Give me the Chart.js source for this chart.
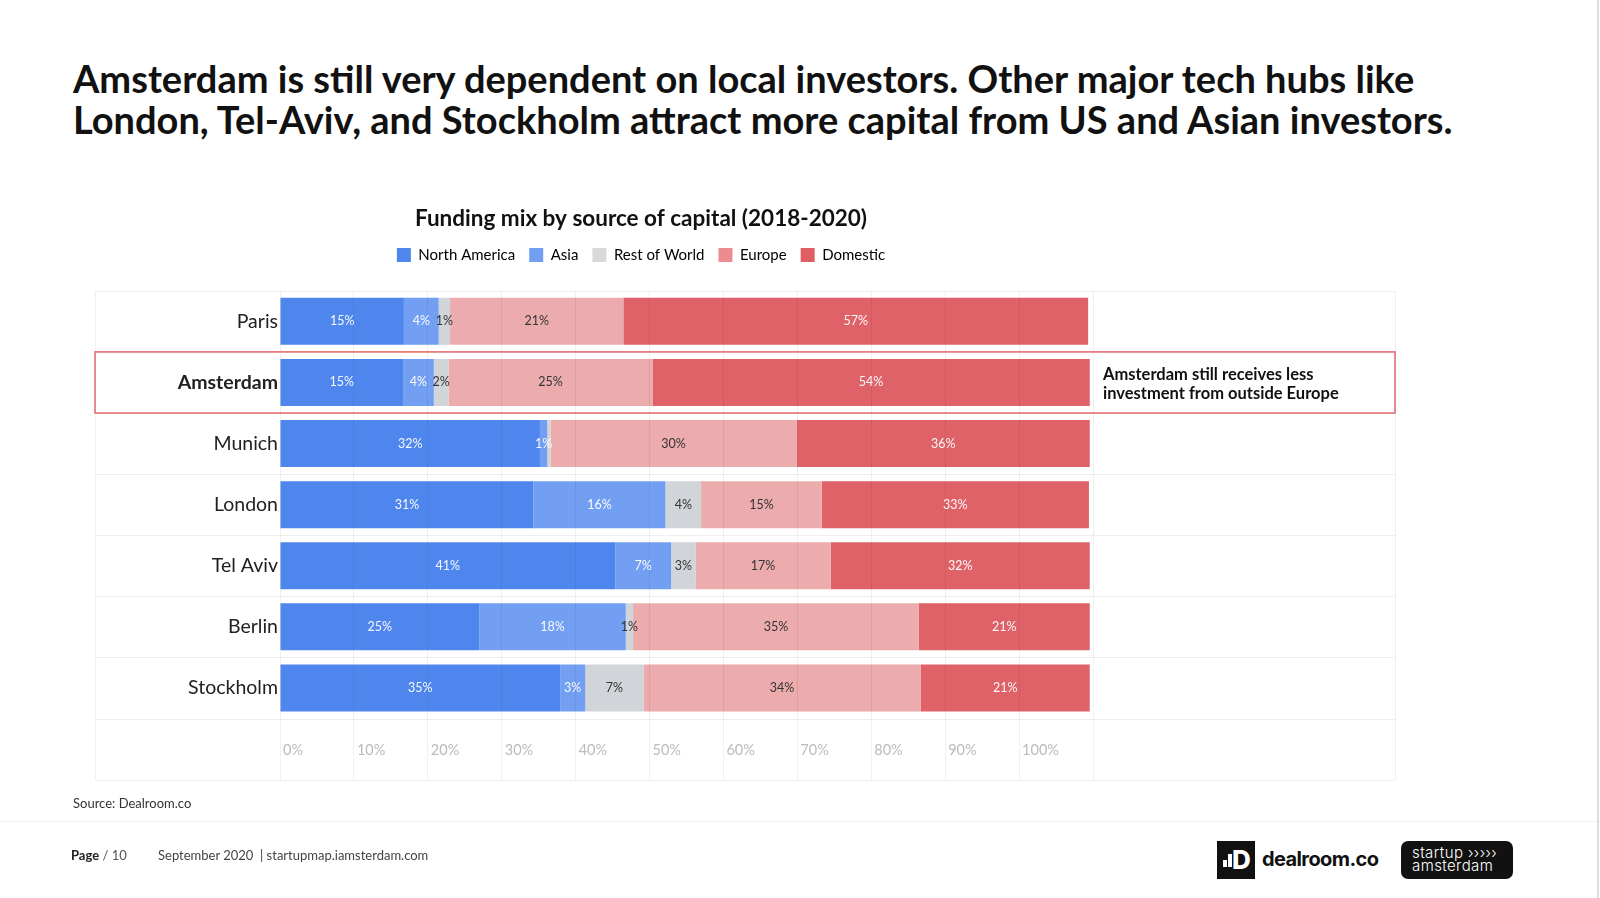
<!DOCTYPE html>
<html>
<head>
<meta charset="utf-8">
<script src="https://cdn.jsdelivr.net/npm/chart.js@4.4.0/dist/chart.umd.min.js"></script>
<style>
html,body{margin:0;padding:0;background:#fff;}
body{width:1600px;height:898px;position:relative;overflow:hidden;font-family:Lato,"Noto Sans",sans-serif;}
#title{position:absolute;left:73px;top:58px;font-size:38px;line-height:41px;font-weight:700;color:#111;white-space:nowrap;}
#chartBox{position:absolute;left:0;top:180px;width:1600px;height:620px;}
#source{position:absolute;left:73px;top:795px;font-size:13px;line-height:16px;color:#333;}
#sep{position:absolute;left:0;top:821px;width:1600px;height:1px;background:#f0f0f0;}
#rightline{position:absolute;left:1597px;top:0;width:2px;height:898px;background:#dedede;}
#page{position:absolute;left:71px;top:847px;font-size:13px;line-height:16px;color:#555;}
#page b{color:#222;}
#date{position:absolute;left:158px;top:847px;font-size:13px;line-height:16px;color:#444;}
#dr-box{position:absolute;left:1217px;top:841px;width:38px;height:38px;background:#111;}
.drbar{position:absolute;background:#fff;}
#dr-D{position:absolute;left:15px;top:4px;font-family:Inter,sans-serif;font-weight:800;font-size:26px;line-height:30px;color:#fff;}
#dr-text{position:absolute;left:1262px;top:846px;font-family:Inter,sans-serif;font-weight:700;font-size:20px;line-height:26px;color:#111;letter-spacing:-0.6px;}
#sa-box{position:absolute;left:1401px;top:841px;width:112px;height:38px;background:#111;border-radius:7px;}
#sa-text{position:absolute;left:11px;top:5px;font-family:Inter,sans-serif;font-weight:300;font-size:15px;line-height:13px;color:#fff;letter-spacing:0.4px;white-space:nowrap;}
</style>
</head>
<body>
<div id="title">Amsterdam is still very dependent on local investors. Other major tech hubs like<br>London, Tel-Aviv, and Stockholm attract more capital from US and Asian investors.</div>
<div id="chartBox"><canvas id="c" width="1600" height="620"></canvas></div>
<div id="source">Source: Dealroom.co</div>
<div id="sep"></div>
<div id="rightline"></div>
<div id="page"><b>Page</b> / 10</div>
<div id="date">September 2020&nbsp; | startupmap.iamsterdam.com</div>
<div id="dr-box">
  <div class="drbar" style="left:6px;top:19px;width:4px;height:7px;"></div>
  <div class="drbar" style="left:11px;top:13px;width:4px;height:13px;"></div>
  <div id="dr-D">D</div>
</div>
<div id="dr-text">dealroom.co</div>
<div id="sa-box"><div id="sa-text">startup ›››››<br>amsterdam</div></div>
<script>
// ---- data ----
const categories = ['Paris', 'Amsterdam', 'Munich', 'London', 'Tel Aviv', 'Berlin', 'Stockholm'];
const seriesNames = ['North America', 'Asia', 'Rest of World', 'Europe', 'Domestic'];
const northAmerica = [15.3, 15.2, 32.1, 31.3, 41.4, 24.6, 34.6];
const asia         = [4.3, 3.8, 0.9, 16.3, 6.9, 18.1, 3.1];
const restOfWorld  = [1.4, 1.8, 0.4, 4.4, 3.0, 0.9, 7.2];
const europe       = [21.4, 25.2, 30.4, 14.9, 16.7, 35.3, 34.2];
const domestic     = [57.4, 54.0, 36.2, 33.0, 32.0, 21.1, 20.9];
const tickLabels = ['0%', '10%', '20%', '30%', '40%', '50%', '60%', '70%', '80%', '90%', '100%', ''];
const chartTitle = 'Funding mix by source of capital (2018-2020)';
const highlightCategory = 'Amsterdam';
const annotationLines = ['Amsterdam still receives less', 'investment from outside Europe'];

// ---- styles / layout ----
const barColors = ['#4f86ee', '#729ff2', '#d1d5da', '#ecacad', '#de6268'];
const legendColors = ['#4f86ee', '#729ff2', '#d9d9d9', '#ec8c90', '#de5e64'];
const labelColors = ['rgba(255,255,255,0.95)', 'rgba(255,255,255,0.95)', '#333', '#333', 'rgba(255,255,255,0.95)'];
const AXIS_MAX = 100.4;
const FRAME_LEFT = 95, FRAME_RIGHT = 1395;
const ANNOT_X = 1103;
const Y_AXIS_W = 91, X_AXIS_H = 61.1, LEGEND_H = 57.3;

const seriesValues = [northAmerica, asia, restOfWorld, europe, domestic];

Chart.defaults.font.family = 'Lato, "Noto Sans", sans-serif';

const legendSpacing = {
  id: 'legendSpacing',
  beforeInit(chart) {
    const orig = chart.legend.fit;
    chart.legend.fit = function () { orig.call(this); this.height = LEGEND_H; };
  }
};

function hline(ctx, x1, x2, y) {
  const yy = Math.round(y) + 0.5;
  ctx.beginPath(); ctx.moveTo(x1, yy); ctx.lineTo(x2, yy); ctx.stroke();
}
function vline(ctx, x, y1, y2) {
  const xx = Math.round(x) + 0.5;
  ctx.beginPath(); ctx.moveTo(xx, y1); ctx.lineTo(xx, y2); ctx.stroke();
}

const framePlugin = {
  id: 'frame',
  beforeDatasetsDraw(chart) {
    const {ctx, chartArea, scales: {x, y}} = chart;
    const band = y.getPixelForValue(1) - y.getPixelForValue(0);
    const top = chartArea.top, bottom = x.bottom;
    ctx.save();
    ctx.strokeStyle = '#efefef';
    ctx.lineWidth = 1;
    for (let i = 0; i < categories.length; i++) {
      hline(ctx, FRAME_LEFT, FRAME_RIGHT, y.getPixelForValue(i) - band / 2);
    }
    hline(ctx, FRAME_LEFT, FRAME_RIGHT, chartArea.bottom);
    hline(ctx, FRAME_LEFT, FRAME_RIGHT, bottom);
    vline(ctx, FRAME_LEFT, top, bottom);
    vline(ctx, FRAME_RIGHT, top, bottom);
    ctx.restore();
  }
};

const overlayPlugin = {
  id: 'overlay',
  afterDraw(chart) {
    const {ctx, scales: {y}} = chart;
    // value labels
    ctx.save();
    ctx.font = '12.5px Lato, "Noto Sans", sans-serif';
    ctx.textAlign = 'center';
    ctx.textBaseline = 'middle';
    chart.data.datasets.forEach((ds, di) => {
      const meta = chart.getDatasetMeta(di);
      meta.data.forEach((el, i) => {
        const v = Math.round(ds.data[i]);
        if (v < 1) return;
        const p = el.getCenterPoint();
        ctx.fillStyle = labelColors[di];
        ctx.fillText(v + '%', p.x, p.y);
      });
    });
    // highlight box and annotation
    const idx = categories.indexOf(highlightCategory);
    const band = y.getPixelForValue(1) - y.getPixelForValue(0);
    const cy = y.getPixelForValue(idx);
    ctx.strokeStyle = '#e3676c';
    ctx.lineWidth = 1.5;
    ctx.strokeRect(FRAME_LEFT, cy - band / 2, FRAME_RIGHT - FRAME_LEFT, band);
    ctx.fillStyle = '#111';
    ctx.font = 'bold 16.5px Lato, "Noto Sans", sans-serif';
    ctx.textAlign = 'left';
    ctx.fillText(annotationLines[0], ANNOT_X, cy - 8);
    ctx.fillText(annotationLines[1], ANNOT_X, cy + 11);
    ctx.restore();
  }
};

new Chart(document.getElementById('c'), {
  type: 'bar',
  data: {
    labels: categories,
    datasets: seriesNames.map((name, i) => ({
      label: name,
      data: seriesValues[i],
      backgroundColor: barColors[i],
      borderWidth: 0,
      barPercentage: 0.77,
      categoryPercentage: 1
    }))
  },
  options: {
    indexAxis: 'y',
    responsive: false,
    animation: false,
    devicePixelRatio: 1,
    events: [],
    layout: { padding: { top: 24.7, left: 189, right: 507, bottom: 20.4 } },
    plugins: {
      title: {
        display: true,
        text: chartTitle,
        color: '#111',
        font: { size: 22.5, weight: 'bold' },
        padding: { top: 1, bottom: 0.8 }
      },
      legend: {
        display: true,
        position: 'top',
        labels: {
          boxWidth: 14, boxHeight: 14, padding: 14,
          color: '#555',
          font: { size: 15 },
          generateLabels(chart) {
            return chart.data.datasets.map((ds, i) => ({
              text: ds.label, fillStyle: legendColors[i], strokeStyle: legendColors[i],
              lineWidth: 0, hidden: false, datasetIndex: i
            }));
          }
        }
      },
      tooltip: { enabled: false }
    },
    scales: {
      x: {
        type: 'linear', stacked: true, min: 0, max: AXIS_MAX,
        afterBuildTicks(scale) {
          scale.ticks = tickLabels.map((_, i) => ({ value: i * AXIS_MAX / (tickLabels.length - 1) }));
        },
        afterFit(scale) { scale.height = X_AXIS_H; },
        border: { display: false },
        grid: { color: 'rgba(0,0,0,0.06)', tickColor: 'rgba(0,0,0,0.06)', z: 1, drawTicks: true, tickLength: 61 },
        ticks: {
          autoSkip: false, maxRotation: 0, align: 'start', labelOffset: 3, padding: -38.3,
          color: '#bbb', font: { size: 14.5 },
          callback: (v, i) => tickLabels[i]
        }
      },
      y: {
        type: 'category', stacked: true,
        afterFit(scale) {
          scale.width = Y_AXIS_W;
          // let long category labels extend left of the axis box instead of being clipped
          scale._computeLabelArea = () => undefined;
        },
        border: { display: false },
        grid: { display: false, drawTicks: false },
        ticks: {
          padding: 2, color: '#222',
          font: (c) => ({ size: 19.5, weight: categories[c.index] === highlightCategory ? 'bold' : 'normal' })
        }
      }
    }
  },
  plugins: [legendSpacing, framePlugin, overlayPlugin]
});
</script>
</body>
</html>
